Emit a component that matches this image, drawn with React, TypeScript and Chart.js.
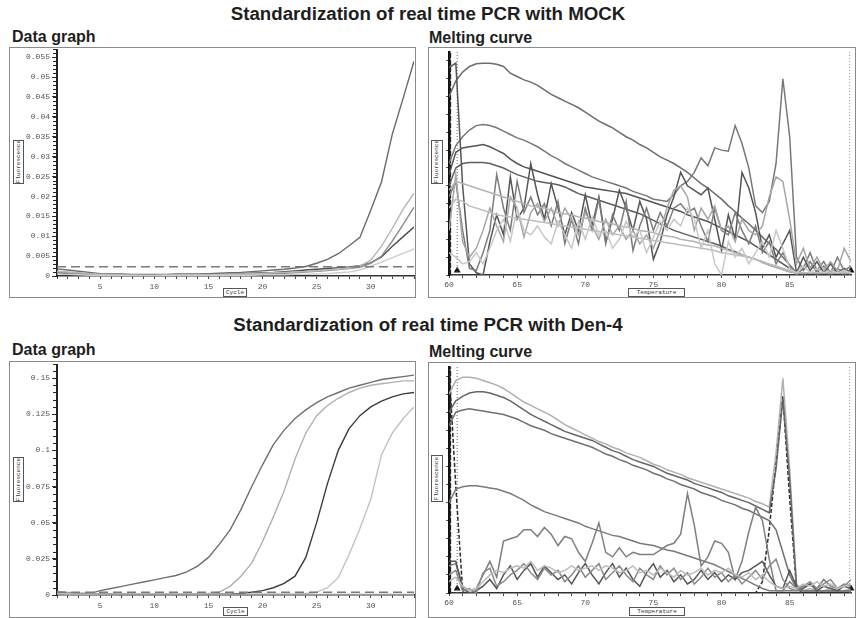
import React, { useEffect, useRef } from 'react';
import { Chart, registerables } from 'chart.js';

Chart.register(...registerables);

// ---------- x values ----------
const cycles = [1, 2, 3, 4, 5, 6, 7, 8, 9, 10, 11, 12, 13, 14, 15, 16, 17, 18, 19, 20, 21, 22, 23, 24, 25, 26, 27, 28, 29, 30, 31, 32, 33, 34];
const temps = [60, 60.5, 61, 61.5, 62, 62.5, 63, 63.5, 64, 64.5, 65, 65.5, 66, 66.5, 67, 67.5, 68, 68.5, 69, 69.5, 70, 70.5, 71, 71.5, 72, 72.5, 73, 73.5, 74, 74.5, 75, 75.5, 76, 76.5, 77, 77.5, 78, 78.5, 79, 79.5, 80, 80.5, 81, 81.5, 82, 82.5, 83, 83.5, 84, 84.5, 85, 85.5, 86, 86.5, 87, 87.5, 88, 88.5, 89, 89.5];

// ---------- MOCK data graph (fluorescence per cycle) ----------
const mockA = [0.0018, 0.0015, 0.0012, 0.0009, 0.0006, 0.0005, 0.0005, 0.0004, 0.0004, 0.0004, 0.0004, 0.0005, 0.0005, 0.0005, 0.0006, 0.0007, 0.0008, 0.0009, 0.0011, 0.0013, 0.0015, 0.0017, 0.0020, 0.0024, 0.0032, 0.0042, 0.0056, 0.0076, 0.0097, 0.0165, 0.0237, 0.0357, 0.0447, 0.0540];
const mockB = [0.0012, 0.0010, 0.0008, 0.0006, 0.0004, 0.0003, 0.0003, 0.0002, 0.0002, 0.0002, 0.0003, 0.0003, 0.0003, 0.0003, 0.0004, 0.0004, 0.0005, 0.0005, 0.0006, 0.0007, 0.0008, 0.0009, 0.0010, 0.0011, 0.0013, 0.0015, 0.0017, 0.0020, 0.0025, 0.0040, 0.0075, 0.0120, 0.0168, 0.0208];
const mockC = [0.0010, 0.0008, 0.0007, 0.0005, 0.0004, 0.0003, 0.0003, 0.0003, 0.0002, 0.0002, 0.0002, 0.0002, 0.0003, 0.0003, 0.0003, 0.0003, 0.0004, 0.0004, 0.0005, 0.0005, 0.0006, 0.0007, 0.0008, 0.0010, 0.0012, 0.0014, 0.0016, 0.0019, 0.0022, 0.0032, 0.0050, 0.0088, 0.0130, 0.0173];
const mockD = [0.0008, 0.0006, 0.0005, 0.0004, 0.0003, 0.0003, 0.0002, 0.0002, 0.0002, 0.0003, 0.0003, 0.0003, 0.0003, 0.0003, 0.0004, 0.0004, 0.0005, 0.0006, 0.0007, 0.0008, 0.0009, 0.0011, 0.0013, 0.0015, 0.0017, 0.0019, 0.0021, 0.0023, 0.0026, 0.0033, 0.0048, 0.0075, 0.0099, 0.0123];
const mockE = [0.0005, 0.0004, 0.0003, 0.0002, 0.0002, 0.0001, 0.0001, 0.0001, 0.0001, 0.0001, 0.0001, 0.0001, 0.0001, 0.0001, 0.0001, 0.0002, 0.0002, 0.0002, 0.0002, 0.0003, 0.0003, 0.0003, 0.0004, 0.0004, 0.0005, 0.0006, 0.0008, 0.0010, 0.0015, 0.0025, 0.0035, 0.0046, 0.0057, 0.0068];
const mockThreshold = 0.00234;

// ---------- Den-4 data graph ----------
const denA = [0.0020, 0.0015, 0.0010, 0.0010, 0.0030, 0.0045, 0.0060, 0.0075, 0.0090, 0.0105, 0.0120, 0.0135, 0.0160, 0.0200, 0.0260, 0.0350, 0.0450, 0.0590, 0.0750, 0.0900, 0.1040, 0.1140, 0.1220, 0.1280, 0.1330, 0.1370, 0.1400, 0.1430, 0.1450, 0.1470, 0.1490, 0.1500, 0.1510, 0.1520];
const denB = [0.0010, 0.0010, 0.0008, 0.0006, 0.0005, 0.0005, 0.0005, 0.0005, 0.0005, 0.0005, 0.0006, 0.0006, 0.0007, 0.0008, 0.0010, 0.0020, 0.0060, 0.0130, 0.0220, 0.0370, 0.0540, 0.0720, 0.0940, 0.1120, 0.1240, 0.1310, 0.1360, 0.1400, 0.1430, 0.1450, 0.1460, 0.1470, 0.1480, 0.1480];
const denC = [0.0012, 0.0010, 0.0008, 0.0006, 0.0005, 0.0004, 0.0004, 0.0004, 0.0004, 0.0004, 0.0004, 0.0004, 0.0004, 0.0005, 0.0005, 0.0005, 0.0006, 0.0010, 0.0020, 0.0030, 0.0050, 0.0080, 0.0130, 0.0260, 0.0500, 0.0770, 0.1000, 0.1150, 0.1240, 0.1300, 0.1340, 0.1370, 0.1390, 0.1400];
const denD = [0.0008, 0.0007, 0.0006, 0.0005, 0.0004, 0.0004, 0.0003, 0.0003, 0.0003, 0.0003, 0.0003, 0.0003, 0.0003, 0.0003, 0.0003, 0.0004, 0.0004, 0.0004, 0.0005, 0.0005, 0.0005, 0.0006, 0.0007, 0.0010, 0.0020, 0.0050, 0.0120, 0.0280, 0.0460, 0.0660, 0.0970, 0.1120, 0.1220, 0.1300];
const denE = [0.0025, 0.0018, 0.0012, 0.0008, 0.0006, 0.0005, 0.0005, 0.0004, 0.0004, 0.0004, 0.0004, 0.0004, 0.0004, 0.0004, 0.0004, 0.0004, 0.0004, 0.0004, 0.0004, 0.0004, 0.0004, 0.0004, 0.0004, 0.0004, 0.0004, 0.0004, 0.0004, 0.0004, 0.0004, 0.0004, 0.0004, 0.0004, 0.0004, 0.0004];
const denThreshold = 0.0019;

// ---------- MOCK melting curve (relative -dF/dT) ----------
const meltMockL1 = [80, 87, 91, 93.5, 94.7, 95, 95, 94.5, 93.5, 90.5, 89, 87.5, 86.5, 85, 83, 81, 79.5, 78, 76.5, 75, 73, 71, 69, 67.5, 66, 64, 62, 60.5, 58.5, 57, 55, 53, 51.5, 50, 48, 46, 43.5, 41, 39, 36.5, 34, 31, 28.5, 25.5, 23, 20, 17, 14, 11.5, 8, 4.5, 1, 0.5, 1, 0.5, 1, 0.5, 1, 0.5, 1];
const meltMockL2 = [50, 58, 62, 65, 67, 67.5, 67, 66, 64.5, 63, 61.5, 60.5, 59, 57.5, 55.5, 53.5, 52, 50, 48.5, 47, 45.5, 44, 43, 42, 41, 40, 39, 37.5, 36.5, 35.5, 34, 33.5, 33, 36, 40, 42, 46, 52.5, 49, 57, 56, 55.5, 67, 59, 48, 31, 28, 33, 50, 88, 62, 8, 2, 6, 1, 4, 1, 3, 1, 2];
const meltMockL3 = [45, 55, 57, 57.5, 58, 58.5, 57.5, 56, 54.5, 52, 50, 48.5, 47.5, 46.5, 45.5, 44.5, 43.5, 42.5, 41.5, 40.5, 39.5, 39, 38.5, 38, 37.5, 37, 36.5, 35.5, 34.5, 33.5, 32.5, 31.5, 30.5, 29.5, 28.5, 27, 26, 25, 24, 22.5, 21, 19.5, 18, 16.5, 15, 13, 11, 9, 7, 5, 3, 1, 1, 1, 1, 1, 1, 1, 1, 1];
const meltMockL4 = [40, 48, 50, 50.5, 50.5, 50.5, 50, 49, 48, 46.5, 45, 44, 43, 42, 41.5, 41, 40.5, 39.5, 38, 36.5, 35.5, 34.5, 33.5, 32.5, 31.5, 30.5, 29.5, 28.5, 27.5, 26, 24.5, 23, 21.5, 20, 19, 18, 17, 16, 15, 14, 13, 11.5, 10.5, 9, 8, 7, 6, 4.5, 3.5, 2.5, 1.5, 1, 1, 1, 1, 1, 1, 1, 1, 1];
const meltMockJ1 = [93, 95, 40, 5, 1, 0, 15, 27, 18, 44, 25, 30, 50, 36, 25, 41, 30, 18, 28, 20, 36, 22, 35, 15, 25, 38, 30, 20, 33, 25, 7, 15, 27, 35, 46, 40, 38, 36, 39, 25, 11, 27, 16, 46, 39, 28, 12, 18, 8, 14, 20, 1, 8, 2, 6, 1, 5, 1, 3, 1];
const meltMockJ2 = [35, 42, 20, 3, 2, 10, 20, 45, 30, 20, 42, 28, 35, 27, 32, 22, 33, 14, 25, 14, 30, 20, 34, 14, 27, 20, 33, 11, 22, 30, 20, 28, 22, 30, 32, 28, 30, 22, 15, 30, 20, 18, 28, 20, 14, 22, 10, 15, 5, 10, 4, 0, 3, 10, 2, 6, 1, 8, 2, 4];
const meltMockJ3 = [20, 45, 15, 8, 12, 20, 30, 22, 15, 35, 30, 17, 28, 32, 24, 30, 22, 30, 25, 18, 28, 22, 16, 25, 18, 22, 16, 20, 14, 18, 12, 20, 30, 38, 40, 35, 20, 30, 25, 31, 20, 22, 15, 25, 20, 18, 22, 35, 44, 42, 25, 5, 12, 3, 8, 2, 6, 2, 12, 6];
const meltMockJ4 = [30, 34, 33, 31, 30, 29, 28, 27, 26.5, 26, 25.5, 25, 24.5, 24, 23.5, 23, 22.5, 22, 21.5, 21, 20.5, 20, 19.5, 19, 18.5, 18, 17.5, 17, 16.5, 16, 15.5, 15, 14.5, 14, 13.5, 13, 12.5, 12, 11.5, 11, 10, 9.5, 9, 8.5, 8, 7, 6, 5, 4, 3, 2, 1, 1, 1, 1, 1, 1, 1, 1, 1];
const meltMockJ5 = [10, 8, 5, 6, 10, 5, 12, 20, 25, 15, 30, 20, 18, 22, 17, 14, 24, 18, 12, 24, 16, 26, 18, 20, 12, 16, 24, 17, 20, 10, 17, 24, 20, 25, 22, 30, 25, 12, 20, 5, 0, 15, 8, 12, 5, 10, 15, 8, 20, 12, 3, 1, 4, 1, 3, 1, 2, 1, 2, 1];
const meltMockJ6 = [38, 42, 41, 40, 39, 38, 37, 36, 35, 34, 33, 32, 31, 30.5, 30, 29, 28, 27.5, 27, 26, 25.5, 25, 24, 23.5, 23, 22, 21.5, 21, 20, 19.5, 19, 18, 17.5, 17, 16, 15.5, 15, 14, 13.5, 13, 12, 11, 10, 9, 8, 7, 5.5, 4.5, 3.5, 2.5, 1.5, 1, 1, 1, 1, 1, 1, 1, 1, 1];

// ---------- Den-4 melting curve ----------
const meltDenB1 = [88, 94, 95.5, 95.5, 95, 94, 93, 92, 90.5, 88.5, 86.5, 84.5, 83, 81.5, 80, 78.5, 76.5, 74.5, 73, 71.5, 70, 68.5, 67, 66, 64.5, 63.5, 62, 61, 60, 58.5, 57, 56, 54.5, 53.5, 52.5, 51, 50, 49, 48, 47, 46, 45, 44, 43, 42, 40.5, 39.5, 38, 62, 95, 55, 4, 1, 2, 1, 1, 2, 1, 1, 2];
const meltDenB2 = [80, 85, 87, 88.5, 89, 89, 88.5, 87.5, 86.5, 85, 83, 81, 79, 77.5, 76, 74.5, 73, 71.5, 70.5, 69.5, 68.5, 67.5, 66, 64.5, 63, 62, 60.5, 59, 58, 57, 56, 54.5, 53, 52, 51, 50, 48.5, 47.5, 46.5, 45.5, 44.5, 43, 42, 41, 40, 38.5, 37, 35.5, 55, 86, 50, 3, 1, 1, 1, 1, 1, 1, 1, 1];
const meltDenB3 = [74, 80, 81, 81.5, 81, 80.5, 80, 79.5, 79, 78, 77, 75.5, 74, 73, 72, 70.5, 69.5, 68.5, 67.5, 66.5, 65.5, 64.5, 63, 61.5, 60.5, 59, 58, 56.5, 55.5, 54.5, 53, 52, 50.5, 49.5, 48, 47, 46, 44.5, 43.5, 42.5, 41, 40, 39, 37.5, 36.5, 35, 33.5, 32, 28, 18, 8, 2, 1, 1, 1, 1, 1, 1, 1, 1];
const meltDenDash = [100, 47, 1, 0, 0, 0, 0, 0, 0, 0, 0, 0, 0, 0, 0, 0, 0, 0, 0, 0, 0, 0, 0, 0, 0, 0, 0, 0, 0, 0, 0, 0, 0, 0, 0, 0, 0, 0, 0, 0, 0, 0, 0, 0, 0, 0, 5, 28, 58, 87, 42, 2, 0, 0, 0, 0, 0, 0, 0, 0];
const meltDenB4 = [40, 46, 47, 47.5, 47.5, 47, 46.5, 46, 45, 44, 42.5, 41, 39, 37.5, 36, 35, 34, 33, 32, 31, 29.5, 28.5, 27.5, 26.5, 25.5, 25, 24, 23, 22, 21.5, 21, 20, 19, 18.5, 17.5, 16.5, 15.5, 14.5, 13.5, 12.5, 11, 9.5, 8, 6.5, 5, 3.5, 2, 1, 1, 1, 1, 1, 1, 1, 1, 1, 1, 1, 1, 1];
const meltDenB5 = [12, 13, 3, 1, 2, 8, 14, 7, 23, 24, 25, 28, 28, 25, 29, 26, 21, 25, 24, 18, 14, 22, 31, 18, 16, 20, 16, 18, 17, 17, 17, 19, 21, 22, 26, 44, 30, 12, 16, 23, 22, 18, 6, 14, 27, 38, 32, 15, 1, 1, 5, 2, 3, 4, 2, 6, 3, 2, 4, 3];
const meltDenB6 = [14, 14, 2, 0, 1, 3, 6, 2, 8, 12, 6, 10, 13, 7, 12, 9, 6, 8, 4, 9, 13, 8, 4, 9, 13, 7, 11, 6, 3, 9, 13, 7, 10, 5, 8, 4, 6, 10, 6, 9, 5, 8, 6, 9, 10, 12, 14, 8, 3, 2, 10, 3, 2, 4, 1, 3, 2, 1, 3, 2];
const meltDenB7 = [8, 10, 1, 2, 0, 9, 11, 3, 5, 8, 10, 13, 9, 6, 11, 8, 10, 5, 8, 12, 7, 10, 13, 6, 9, 12, 8, 5, 11, 8, 6, 12, 8, 11, 6, 9, 4, 7, 11, 7, 9, 5, 8, 4, 7, 10, 6, 12, 15, 6, 2, 1, 3, 5, 2, 4, 6, 2, 3, 6];
const meltDenB8 = [5, 7, 3, 1, 2, 5, 8, 10, 9, 11, 12, 11, 14, 10, 12, 11, 9, 10, 12, 10, 11, 12, 10, 12, 11, 9, 10, 12, 9, 10, 8, 11, 9, 7, 10, 8, 9, 11, 8, 10, 9, 11, 8, 7, 9, 6, 8, 5, 3, 2, 3, 2, 4, 3, 5, 3, 4, 2, 3, 4];

// reference markers of the melting analysis
const meltStartLine = 60.1;
const meltCursor = 60.6;
const meltEndCursor = 89.4;
const meltMarkerLevel = 2;

// ---------- styles (kept apart from values) ----------
const mockGraphSeries = [
  { values: mockE, color: '#cdcdcd' },
  { values: mockB, color: '#b5b5b5' },
  { values: mockC, color: '#8c8c8c' },
  { values: mockD, color: '#4e4e4e' },
  { values: mockA, color: '#6a6a6a' },
];
const denGraphSeries = [
  { values: denE, color: '#9a9a9a' },
  { values: denD, color: '#c2c2c2' },
  { values: denB, color: '#b0b0b0' },
  { values: denC, color: '#3c3c3c' },
  { values: denA, color: '#6f6f6f' },
];
const mockMeltSeries = [
  { values: meltMockJ5, color: '#c8c8c8' },
  { values: meltMockJ4, color: '#bdbdbd' },
  { values: meltMockJ6, color: '#b3b3b3' },
  { values: meltMockJ3, color: '#a6a6a6' },
  { values: meltMockJ2, color: '#7c7c7c' },
  { values: meltMockL4, color: '#5e5e5e' },
  { values: meltMockL3, color: '#555555' },
  { values: meltMockJ1, color: '#555555' },
  { values: meltMockL2, color: '#777777' },
  { values: meltMockL1, color: '#6c6c6c' },
];
const denMeltSeries = [
  { values: meltDenB8, color: '#bcbcbc' },
  { values: meltDenB7, color: '#8a8a8a' },
  { values: meltDenB6, color: '#555555' },
  { values: meltDenB5, color: '#7f7f7f' },
  { values: meltDenB4, color: '#7a7a7a' },
  { values: meltDenB3, color: '#707070' },
  { values: meltDenB2, color: '#666666' },
  { values: meltDenB1, color: '#b0b0b0' },
];

const tickFont = { family: '"Liberation Mono", "DejaVu Sans Mono", monospace', size: 8 };

const minorTicksPlugin = {
  id: 'minorTicks',
  afterDraw(chart: any, _args: any, opts: any) {
    if (!opts || !opts.step) return;
    const ys = chart.scales.y;
    const ctx = chart.ctx;
    ctx.save();
    ctx.strokeStyle = opts.color || '#333';
    ctx.lineWidth = 1;
    const n = Math.round((ys.max - ys.min) / opts.step);
    for (let i = 0; i <= n; i++) {
      const p = Math.round(ys.getPixelForValue(ys.min + i * opts.step)) + 0.5;
      ctx.beginPath();
      ctx.moveTo(ys.right - opts.len, p);
      ctx.lineTo(ys.right, p);
      ctx.stroke();
    }
    ctx.restore();
  },
};

type Dims = { yW: number; xH: number; padTop: number; padRight: number };

function fmt(v: number) {
  return String(Number(Number(v).toFixed(4)));
}

function graphConfig(series: any[], threshold: number, yMax: number, yStep: number, yMinor: number, d: Dims): any {
  return {
    type: 'line',
    data: {
      datasets: [
        {
          data: [{ x: cycles[0], y: threshold }, { x: cycles[cycles.length - 1], y: threshold }],
          borderColor: '#7a7a7a',
          borderDash: [9, 5],
          borderWidth: 1.6,
          pointRadius: 0,
        },
        ...series.map((s) => ({
          data: cycles.map((c, i) => ({ x: c, y: s.values[i] })),
          borderColor: s.color,
          borderWidth: 1.4,
          pointRadius: 0,
          tension: 0,
        })),
      ],
    },
    options: {
      animation: false,
      responsive: false,
      events: [],
      layout: { padding: { top: d.padTop, right: d.padRight, left: 0, bottom: 0 } },
      plugins: {
        legend: { display: false },
        tooltip: { enabled: false },
        minorTicks: { step: yMinor, len: 4, color: '#222' },
      },
      scales: {
        x: {
          type: 'linear',
          min: cycles[0],
          max: cycles[cycles.length - 1],
          border: { color: '#333', width: 1.5 },
          grid: { drawOnChartArea: false, drawTicks: true, tickLength: 3, color: '#444' },
          ticks: {
            stepSize: 1,
            autoSkip: false,
            maxRotation: 0,
            includeBounds: false,
            padding: 3,
            font: tickFont,
            color: '#555',
            callback: (v: number) => (v % 5 === 0 ? String(v) : ''),
          },
          afterFit: (s: any) => {
            s.height = d.xH;
            s.paddingLeft = 0;
            s.paddingRight = 0;
          },
        },
        y: {
          type: 'linear',
          min: 0,
          max: yMax,
          border: { color: '#222', width: 2 },
          grid: { drawOnChartArea: false, drawTicks: true, tickLength: 5, color: '#333' },
          ticks: {
            stepSize: yStep,
            includeBounds: false,
            padding: 2,
            font: tickFont,
            color: '#555',
            callback: (v: number) => fmt(v),
          },
          afterFit: (s: any) => {
            s.width = d.yW;
            s.paddingTop = 0;
            s.paddingBottom = 0;
          },
        },
      },
    },
    plugins: [minorTicksPlugin],
  };
}

function meltConfig(series: any[], withDash: boolean, d: Dims): any {
  const vline = (x: number, color: string, dash: number[], width: number) => ({
    data: [{ x, y: 0 }, { x, y: 100 }],
    borderColor: color,
    borderDash: dash,
    borderWidth: width,
    pointRadius: 0,
  });
  const datasets: any[] = [
    ...series.map((s) => ({
      data: temps.map((t, i) => ({ x: t, y: s.values[i] })),
      borderColor: s.color,
      borderWidth: 1.5,
      pointRadius: 0,
      tension: 0,
    })),
  ];
  if (withDash) {
    datasets.push({
      data: temps.map((t, i) => ({ x: t, y: meltDenDash[i] })),
      borderColor: '#2a2a2a',
      borderDash: [4, 2],
      borderWidth: 1.5,
      pointRadius: 0,
      tension: 0,
    });
  }
  datasets.push(vline(meltStartLine, '#222', [5, 2], 1.6));
  datasets.push(vline(meltCursor, '#666', [1, 2], 1));
  datasets.push(vline(meltEndCursor, '#999', [1, 2], 1));
  datasets.push({
    data: [{ x: meltCursor, y: meltMarkerLevel }, { x: temps[temps.length - 1], y: meltMarkerLevel }],
    showLine: false,
    pointStyle: 'triangle',
    pointRadius: 4,
    pointBackgroundColor: '#111',
    pointBorderColor: '#111',
    borderWidth: 0,
    clip: false,
  });
  return {
    type: 'line',
    data: { datasets },
    options: {
      animation: false,
      responsive: false,
      events: [],
      layout: { padding: { top: d.padTop, right: d.padRight, left: 0, bottom: 0 } },
      plugins: { legend: { display: false }, tooltip: { enabled: false } },
      scales: {
        x: {
          type: 'linear',
          min: temps[0],
          max: temps[temps.length - 1],
          border: { color: '#333', width: 1.5 },
          grid: { drawOnChartArea: false, drawTicks: true, tickLength: 3, color: '#444' },
          ticks: {
            stepSize: 1,
            autoSkip: false,
            maxRotation: 0,
            includeBounds: false,
            padding: 2,
            font: tickFont,
            color: '#555',
            callback: (v: number) => (v % 5 === 0 ? String(v) : ''),
          },
          afterFit: (s: any) => {
            s.height = d.xH;
            s.paddingLeft = 0;
            s.paddingRight = 0;
          },
        },
        y: {
          type: 'linear',
          min: 0,
          max: 100,
          border: { color: '#111', width: 2.5 },
          grid: { drawOnChartArea: false, drawTicks: true, tickLength: 3, color: '#555' },
          ticks: { stepSize: 4, includeBounds: false, padding: 0, font: tickFont, callback: () => '' },
          afterFit: (s: any) => {
            s.width = d.yW;
            s.paddingTop = 0;
            s.paddingBottom = 0;
          },
        },
      },
    },
  };
}

function ChartCanvas({ left, top, width, height, build }: { left: number; top: number; width: number; height: number; build: () => any }) {
  const ref = useRef<HTMLCanvasElement>(null);
  useEffect(() => {
    if (!ref.current) return;
    const chart = new Chart(ref.current, build());
    return () => chart.destroy();
  }, []);
  return (
    <canvas
      ref={ref}
      width={width}
      height={height}
      style={{ position: 'absolute', left, top, width, height, display: 'block' }}
    />
  );
}

const headFont = '"Liberation Sans", Arial, Helvetica, sans-serif';

function Heading({ text, left, top, size, center }: { text: string; left: number; top: number; size: number; center?: boolean }) {
  return (
    <div
      style={{
        position: 'absolute',
        left: center ? 0 : left,
        width: center ? 856 : undefined,
        textAlign: center ? 'center' : 'left',
        top,
        fontFamily: headFont,
        fontWeight: 'bold',
        fontSize: size,
        lineHeight: 1,
        color: '#1e1e1e',
        whiteSpace: 'nowrap',
      }}
    >
      {text}
    </div>
  );
}

function AxisBox({ text, left, top, w, h, vertical }: { text: string; left: number; top: number; w: number; h: number; vertical?: boolean }) {
  return (
    <div
      style={{
        position: 'absolute',
        left,
        top,
        width: w,
        height: h,
        boxSizing: 'border-box',
        border: '1px solid #555',
        background: '#fff',
        display: 'flex',
        alignItems: 'center',
        justifyContent: 'center',
        overflow: 'hidden',
        fontFamily: '"Liberation Mono", "DejaVu Sans Mono", monospace',
        fontSize: 6,
        lineHeight: 1,
        color: '#333',
      }}
    >
      <span style={vertical ? { writingMode: 'vertical-rl', transform: 'rotate(180deg)' } : {}}>{text}</span>
    </div>
  );
}

function Frame({ left, top, w, h }: { left: number; top: number; w: number; h: number }) {
  return (
    <div
      style={{
        position: 'absolute',
        left,
        top,
        width: w,
        height: h,
        boxSizing: 'border-box',
        border: '1px solid #8a8a8a',
      }}
    />
  );
}

export default function App() {
  return (
    <div style={{ position: 'absolute', left: 0, top: 0, width: 856, height: 618, overflow: 'hidden', background: '#fff' }}>
      <Heading text="Standardization of real time PCR with MOCK" left={0} top={5} size={18.7} center />
      <Heading text="Data graph" left={12} top={29} size={16} />
      <Heading text="Melting curve" left={429} top={30} size={16} />

      <Frame left={9} top={47} w={407} h={251} />
      <Frame left={428} top={47} w={428} h={251} />
      <ChartCanvas
        left={10}
        top={48}
        width={405}
        height={249}
        build={() => graphConfig(mockGraphSeries, mockThreshold, 0.0568, 0.005, 0.001, { yW: 47, xH: 21, padTop: 2, padRight: 1 })}
      />
      <ChartCanvas
        left={429}
        top={48}
        width={426}
        height={249}
        build={() => meltConfig(mockMeltSeries, false, { yW: 20, xH: 22, padTop: 0, padRight: 1 })}
      />
      <AxisBox text="Fluorescence" left={13} top={140} w={11} h={44} vertical />
      <AxisBox text="Cycle" left={223} top={288} w={24} h={9} />
      <AxisBox text="Fluorescence" left={431} top={140} w={12} h={44} vertical />
      <AxisBox text="Temperature" left={628} top={288} w={57} h={9} />

      <Heading text="Standardization of real time PCR with Den-4" left={0} top={316} size={18.7} center />
      <Heading text="Data graph" left={12} top={342} size={16} />
      <Heading text="Melting curve" left={429} top={344} size={16} />

      <Frame left={9} top={361} w={407} h={257} />
      <Frame left={428} top={362} w={428} h={256} />
      <ChartCanvas
        left={10}
        top={362}
        width={405}
        height={255}
        build={() => graphConfig(denGraphSeries, denThreshold, 0.159, 0.025, 0.005, { yW: 47, xH: 22, padTop: 3, padRight: 1 })}
      />
      <ChartCanvas
        left={429}
        top={363}
        width={426}
        height={254}
        build={() => meltConfig(denMeltSeries, true, { yW: 20, xH: 24, padTop: 2, padRight: 1 })}
      />
      <AxisBox text="Fluorescence" left={13} top={457} w={11} h={45} vertical />
      <AxisBox text="Cycle" left={223} top={607} w={25} h={9} />
      <AxisBox text="Fluorescence" left={431} top={455} w={12} h={47} vertical />
      <AxisBox text="Temperature" left={629} top={607} w={56} h={9} />
    </div>
  );
}
